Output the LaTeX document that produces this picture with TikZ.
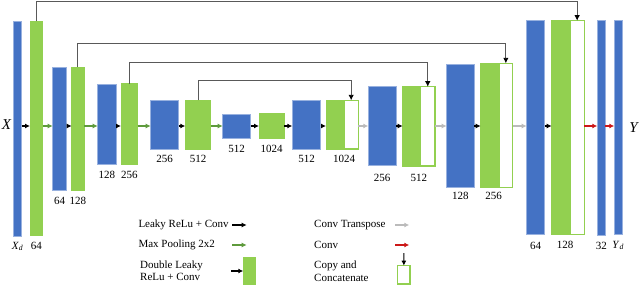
\documentclass[tikz,border=0pt]{standalone}
\usepackage{fontspec}
\setmainfont{Liberation Serif}
\usetikzlibrary{arrows.meta,calc}
\definecolor{myblue}{HTML}{4472C4}
\definecolor{mygreen}{HTML}{92D050}
\definecolor{poolgreen}{HTML}{5E9A3C}
\definecolor{tgray}{HTML}{BBBBBB}
\definecolor{cred}{HTML}{CC1818}
\definecolor{skipgray}{HTML}{595959}
\newcommand{\blk}[6]{\node[#6, anchor=north west, minimum width={(#4-#2)*1pt}, minimum height={(#5-#3)*1pt}] (#1) at (#2,#3) {};}
\tikzset{
  bluebox/.style={fill=myblue, draw=myblue!55!white, line width=0.5pt, inner sep=0pt, outer sep=0pt},
  greenbox/.style={fill=mygreen, draw=mygreen, line width=0.8pt, inner sep=0pt, outer sep=0pt},
  whitebox/.style={fill=white, draw=mygreen, line width=1.1pt, inner sep=0pt, outer sep=0pt},
  tip/.style={-{Latex[length=5pt,width=5pt]}},
  convarr/.style={tip, black, line width=1.1pt},
  poolarr/.style={tip, poolgreen, line width=1.1pt},
  transarr/.style={tip, tgray, line width=1.1pt},
  redarr/.style={tip, cred, line width=1.1pt},
  skip/.style={draw=skipgray, line width=0.9pt, -{Latex[length=5.5pt,width=5.5pt,color=black]}},
  lbl/.style={font=\fontsize{11}{12.5}\selectfont, inner sep=0pt},
  legtxt/.style={font=\fontsize{11}{12.5}\selectfont, inner sep=0pt, anchor=west, align=left},
}
\begin{document}
\begin{tikzpicture}[x=1pt,y=-1pt]
\useasboundingbox (0,0) rectangle (640,285);
% encoder
\blk{b0}{13.3}{21.7}{21.7}{236}{bluebox}
\blk{g0}{30}{21.3}{42.7}{235}{greenbox}
\blk{b1}{52.7}{67.3}{66.7}{190.7}{bluebox}
\blk{g1}{71.7}{67}{84}{190.7}{greenbox}
\blk{b2}{97.7}{84}{116}{164}{bluebox}
\blk{g2}{121}{83.7}{137.7}{164}{greenbox}
\blk{b3}{150.7}{100.3}{178.7}{149}{bluebox}
\blk{g3}{185.3}{100.3}{210.7}{149}{greenbox}
\blk{b4}{222.7}{114.3}{250.7}{138.3}{bluebox}
\blk{g4}{259}{113.3}{284}{138.3}{greenbox}
% decoder
\blk{b5}{292.3}{100.7}{320.7}{149}{bluebox}
\blk{g5}{326}{100.3}{344}{149}{greenbox}
\blk{w5}{344}{100.3}{358.3}{149}{whitebox}
\blk{b6}{368.3}{86}{396}{165.7}{bluebox}
\blk{g6}{402.7}{86.7}{420.5}{166}{greenbox}
\blk{w6}{420.5}{86.7}{435}{166}{whitebox}
\blk{b7}{446.7}{64}{474}{187.7}{bluebox}
\blk{g7}{480.7}{63.3}{499}{187.7}{greenbox}
\blk{w7}{499}{63.3}{512.7}{187.7}{whitebox}
\blk{b8}{526.7}{20}{544.7}{234.3}{bluebox}
\blk{g8}{551.7}{20.7}{570}{234.3}{greenbox}
\blk{w8}{570}{20.7}{584.3}{234.3}{whitebox}
\blk{b9}{597.3}{20.7}{605.3}{235}{bluebox}
\blk{b10}{614.3}{20}{622}{234.3}{bluebox}

% in/out labels
\node[inner sep=0pt, font=\fontsize{15}{15}\selectfont\itshape] (X) at (6.5,125) {X};
\node[inner sep=0pt, font=\fontsize{15}{15}\selectfont\itshape] (Y) at (633.5,128) {Y};

% main arrows
\coordinate (ay) at (0,126);
\draw[convarr] (b0.east |- ay) -- (g0.west |- ay);
\draw[poolarr] (g0.east |- ay) -- (b1.west |- ay);
\draw[convarr] (b1.east |- ay) -- (g1.west |- ay);
\draw[poolarr] (g1.east |- ay) -- (b2.west |- ay);
\draw[convarr] (b2.east |- ay) -- (g2.west |- ay);
\draw[poolarr] (g2.east |- ay) -- (b3.west |- ay);
\draw[convarr] (b3.east |- ay) -- (g3.west |- ay);
\draw[poolarr] (g3.east |- ay) -- (b4.west |- ay);
\draw[convarr] (b4.east |- ay) -- (g4.west |- ay);
\draw[convarr] (g4.east |- ay) -- (b5.west |- ay);
\draw[convarr] (b5.east |- ay) -- (g5.west |- ay);
\draw[transarr] (w5.east |- ay) -- (b6.west |- ay);
\draw[convarr] (b6.east |- ay) -- (g6.west |- ay);
\draw[transarr] (w6.east |- ay) -- (b7.west |- ay);
\draw[convarr] (b7.east |- ay) -- (g7.west |- ay);
\draw[transarr] (w7.east |- ay) -- (b8.west |- ay);
\draw[convarr] (b8.east |- ay) -- (g8.west |- ay);
\draw[redarr] (w8.east |- ay) -- (b9.west |- ay);
\draw[redarr] (b9.east |- ay) -- (b10.west |- ay);

% skip connections
\draw[skip] (g0.north) |- (w8.north |- 0,1.8) -- (w8.north);
\draw[skip] (g1.north) |- (w7.north |- 0,43.3) -- (w7.north);
\draw[skip] (g2.north) |- (w6.north |- 0,62.7) -- (w6.north);
\draw[skip] (g3.north) |- (w5.north |- 0,80.3) -- (w5.north);

% size labels
\node[lbl] (lb0) at ($(b0.south)+(0,10.5)$) {\textit{X}\textsubscript{\textit{d}}};
\node[lbl] (lg0) at ($(g0.south)+(0,11)$) {64};
\node[lbl] (lb1) at ($(b1.south)+(0,10)$) {64};
\node[lbl] (lg1) at ($(g1.south)+(0,10)$) {128};
\node[lbl] (lb2) at ($(b2.south)+(0,11)$) {128};
\node[lbl] (lg2) at ($(g2.south)+(0,11)$) {256};
\node[lbl] (lb3) at ($(b3.south)+(0,10)$) {256};
\node[lbl] (lg3) at ($(g3.south)+(0,10)$) {512};
\node[lbl] (lb4) at ($(b4.south)+(0,11)$) {512};
\node[lbl] (lg4) at ($(g4.south)+(0,11)$) {1024};
\node[lbl] (lb5) at ($(b5.south)+(0,9.5)$) {512};
\node[lbl] (lc5) at ($(g5.south east)+(0,9.5)$) {1024};
\node[lbl] (lb6) at ($(b6.south)+(0,12)$) {256};
\node[lbl] (lc6) at ($(g6.south west)!0.5!(w6.south east)+(0,12)$) {512};
\node[lbl] (lb7) at ($(b7.south)+(0,8.5)$) {128};
\node[lbl] (lc7) at ($(g7.south west)!0.5!(w7.south east)+(-3,8.5)$) {256};
\node[lbl] (lb8) at ($(b8.south)+(0,12)$) {64};
\node[lbl] (lc8) at ($(g8.south west)!0.5!(w8.south east)+(-3,11)$) {128};
\node[lbl] (lb9) at ($(b9.south)+(0,10.5)$) {32};
\node[lbl] (lb10) at ($(b10.south)+(0,11)$) {\textit{Y}\textsubscript{\textit{d}}};

% legend
\node[legtxt] (t1) at (138.3,225) {Leaky ReLu + Conv};
\coordinate (a1s) at (232.3,225); \coordinate (a1e) at (246.7,225);
\draw[convarr] (a1s) -- (a1e);
\node[legtxt] (t2) at (138.3,245) {Max Pooling 2x2};
\coordinate (a2s) at (232.3,245); \coordinate (a2e) at (246.7,245);
\draw[poolarr] (a2s) -- (a2e);
\node[legtxt] (t3) at (140,270.5) {Double Leaky\\ReLu + Conv};
\blk{lg}{243.3}{257.7}{255}{284.5}{greenbox}
\coordinate (a3s) at (231,271);
\draw[convarr] (a3s) -- (lg.west |- a3s);
\node[legtxt] (t4) at (314,225) {Conv Transpose};
\coordinate (a4s) at (395,225); \coordinate (a4e) at (409.3,225);
\draw[transarr] (a4s) -- (a4e);
\node[legtxt] (t5) at (314,245) {Conv};
\coordinate (a5s) at (395,245); \coordinate (a5e) at (409.3,245);
\draw[redarr] (a5s) -- (a5e);
\node[legtxt] (t6) at (314,271) {Copy and\\Concatenate};
\blk{lw}{397.7}{265.7}{410}{284}{whitebox}
\coordinate (a6s) at (403.85,253);
\draw[convarr] (a6s) -- (lw.north);
\end{tikzpicture}
\end{document}
